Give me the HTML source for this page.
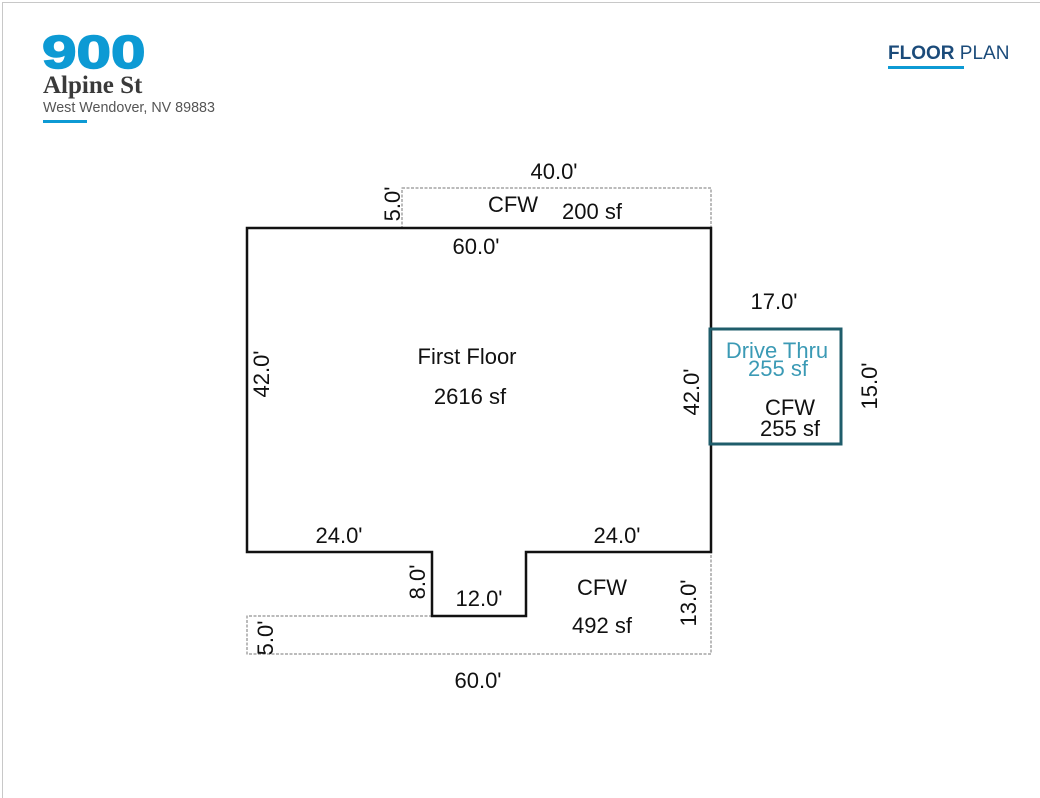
<!DOCTYPE html>
<html><head><meta charset="utf-8"><style>
html,body{margin:0;padding:0;background:#fff;width:1040px;height:798px;overflow:hidden}
svg{display:block}
</style></head><body>
<svg width="1040" height="798" viewBox="0 0 1040 798" xmlns="http://www.w3.org/2000/svg">
<line x1="2.5" y1="2" x2="2.5" y2="798" stroke="#c8c8c8" stroke-width="1"/>
<line x1="2" y1="2.5" x2="1040" y2="2.5" stroke="#c8c8c8" stroke-width="1"/>
<text transform="translate(42,68) scale(1.35,1)" font-family="Liberation Sans, sans-serif" font-weight="bold" font-size="46" fill="#0d9ad4" stroke="#0d9ad4" stroke-width="1.5">900</text>
<text x="43" y="93" font-family="Liberation Serif, serif" font-weight="bold" font-size="25" fill="#3a3a3a">Alpine St</text>
<text x="43" y="112" font-family="Liberation Sans, sans-serif" font-size="14.3" fill="#555">West Wendover, NV 89883</text>
<rect x="43" y="120" width="44" height="3" fill="#0d9ad4"/>
<text x="888" y="59" font-family="Liberation Sans, sans-serif" font-size="19" fill="#1b4b7a"><tspan font-weight="bold">FLOOR</tspan> PLAN</text>
<rect x="888" y="66" width="76" height="3" fill="#0d9ad4"/>

<g fill="none" stroke="#777" stroke-width="1" stroke-dasharray="3,1.5">
<rect x="402" y="188" width="309" height="40"/>
<polyline points="432,616 247,616 247,654 711,654 711,552"/>
</g>
<polygon points="247,228 711,228 711,552 526,552 526,616 432,616 432,552 247,552" fill="none" stroke="#111" stroke-width="2.5"/>
<rect x="710" y="329" width="131" height="115" fill="none" stroke="#1f5d6b" stroke-width="3"/>

<g font-family="Liberation Sans, sans-serif" font-size="22" fill="#111" text-anchor="middle">
<text x="554" y="179">40.0'</text>
<text x="513" y="212">CFW</text>
<text x="592" y="219">200 sf</text>
<text x="476" y="254">60.0'</text>
<text x="774" y="309">17.0'</text>
<text x="467" y="364">First Floor</text>
<text x="470" y="404">2616 sf</text>
<text x="339" y="543">24.0'</text>
<text x="617" y="543">24.0'</text>
<text x="479" y="606">12.0'</text>
<text x="602" y="595">CFW</text>
<text x="602" y="633">492 sf</text>
<text x="478" y="688">60.0'</text>
<text x="790" y="415">CFW</text>
<text x="790" y="436">255 sf</text>
<text fill="#3b9ab5" x="777" y="358">Drive Thru</text>
<text fill="#3b9ab5" x="778" y="376">255 sf</text>
<text transform="translate(400,204) rotate(-90)">5.0'</text>
<text transform="translate(269,374) rotate(-90)">42.0'</text>
<text transform="translate(699,392) rotate(-90)">42.0'</text>
<text transform="translate(877,386) rotate(-90)">15.0'</text>
<text transform="translate(425,582) rotate(-90)">8.0'</text>
<text transform="translate(696,603) rotate(-90)">13.0'</text>
<text transform="translate(273,638) rotate(-90)">5.0'</text>
</g>
</svg>
</body></html>
